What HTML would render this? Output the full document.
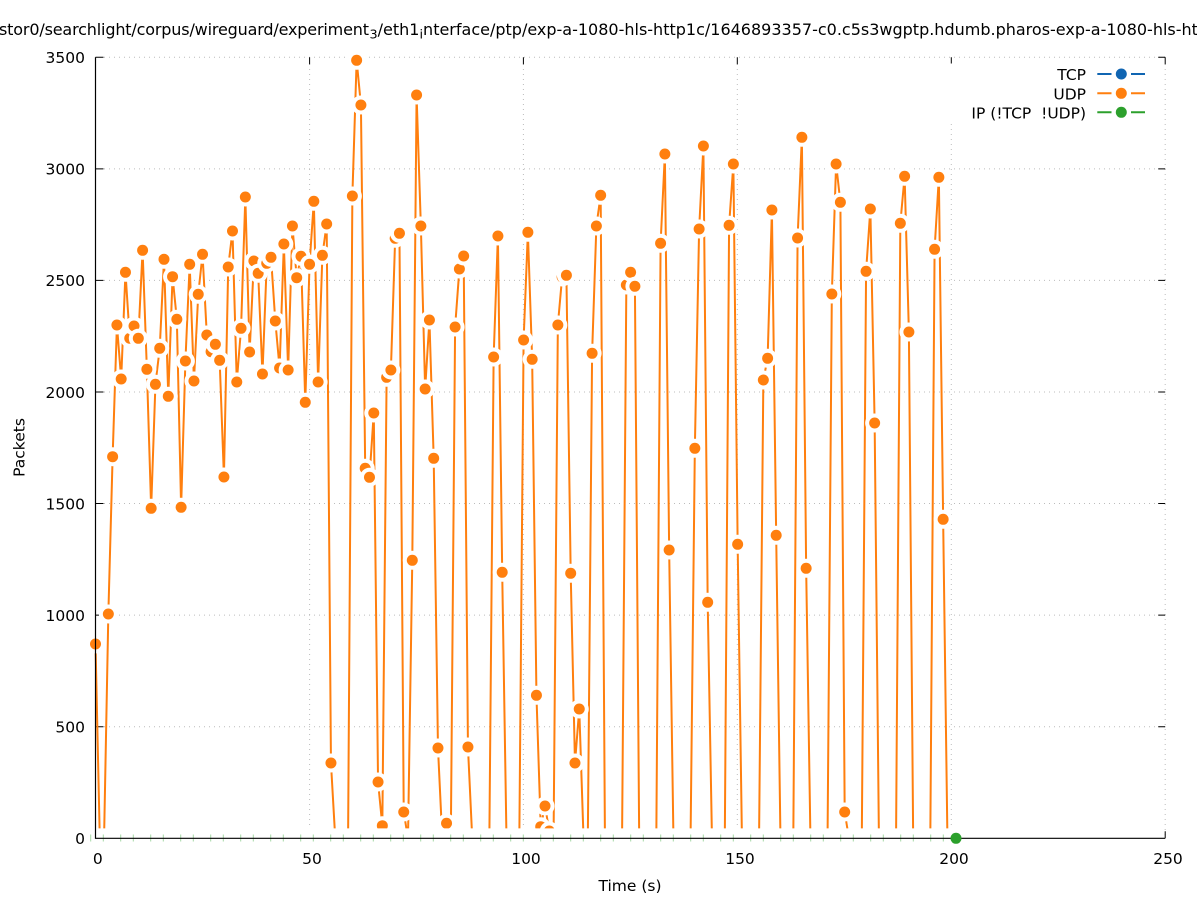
<!DOCTYPE html>
<html><head><meta charset="utf-8"><style>
html,body{margin:0;padding:0;background:#fff;}
svg{display:block;font-family:"DejaVu Sans","Liberation Sans",sans-serif;}
.w{fill:#fff}.o{fill:#ff7f0e}
</style></head><body>
<svg width="1197" height="900" viewBox="0 0 1197 900" xmlns="http://www.w3.org/2000/svg">
<rect width="1197" height="900" fill="#fff"/>
<g stroke="#bcbcbc" stroke-width="1" stroke-dasharray="1 4" fill="none">
<path d="M104 57.3H1165.2M104 168.9H1165.2M104 280.4H1165.2M104 392H1165.2M104 503.5H1165.2M104 615.1H1165.2M104 726.7H1165.2"/>
<path d="M309.6 64V838.3M523.4 64V838.3M737.3 64V838.3M951.3 64V838.3M1165.2 64V838.3"/>
</g>
<g stroke="#000" stroke-width="1" fill="none">
<path d="M95.5 57.3h8M95.5 168.9h8M95.5 280.4h8M95.5 392h8M95.5 503.5h8M95.5 615.1h8M95.5 726.7h8"/>
<path d="M1165.2 57.3h-7M1165.2 168.9h-7M1165.2 280.4h-7M1165.2 392h-7M1165.2 503.5h-7M1165.2 615.1h-7M1165.2 726.7h-7"/>
<path d="M309.6 57.3v7M523.4 57.3v7M737.3 57.3v7M951.3 57.3v7M1165.2 57.3v7"/>
<path d="M309.6 838.3v-7M523.4 838.3v-7M737.3 838.3v-7M951.3 838.3v-7M1165.2 838.3v-7"/>
</g>
<rect x="945" y="63.5" width="213" height="60" fill="#fff"/>
<polyline fill="none" stroke="#ff7f0e" stroke-width="2" stroke-linejoin="miter" points="95.5,644 99.78,838.3 104.06,838.3 108.34,614 112.62,456.7 116.91,325 121.19,379 125.47,272.3 129.75,338.3 134.03,326 138.31,338.3 142.59,250.3 146.87,369.3 151.15,508.3 155.43,384.3 159.72,348.3 164,259.3 168.28,396.3 172.56,276.7 176.84,319.3 181.12,507.3 185.4,361 189.68,264.3 193.96,381 198.24,294.3 202.53,254.3 206.81,335 211.09,351.7 215.37,344.3 219.65,360.3 223.93,477 228.21,267 232.49,231 236.77,382 241.05,328.3 245.34,197 249.62,352 253.9,261 258.18,273.3 262.46,374 266.74,263.3 271.02,257.3 275.3,321 279.58,368 283.86,244 288.15,370 292.43,226 296.71,277.7 300.99,256.3 305.27,402.3 309.55,264.3 313.83,201.3 318.11,382 322.39,255.3 326.67,224 330.96,763 335.24,838.3 348.08,838.3 352.36,196 356.64,60.3 360.92,105 365.2,468.3 369.48,477.3 373.77,413 378.05,782 382.33,825.7 386.61,377.3 390.89,370 395.17,238.3 399.45,233.3 403.73,812 408.01,838.3 412.29,560.3 416.58,95 420.86,226 425.14,389 429.42,320 433.7,458.3 437.98,748 442.26,838.3 446.54,823.3 450.82,838.3 455.1,327 459.39,269 463.67,256 467.95,747 472.23,838.3 489.35,838.3 493.63,357 497.91,236 502.2,572.3 506.48,838.3 519.32,838.3 523.6,340 527.88,232.3 532.16,359.3 536.44,695.3 540.72,826.7 545.01,806 549.29,831 553.57,838.3 557.85,325 562.13,277 566.41,275.3 570.69,573.3 574.97,763 579.25,709 583.53,838.3 587.82,838.3 592.1,353.3 596.38,226 600.66,195.3 604.94,838.3 622.06,838.3 626.34,285 630.63,272.3 634.91,286.3 639.19,838.3 656.31,838.3 660.59,243.3 664.87,154 669.15,550 673.44,838.3 690.56,838.3 694.84,448.3 699.12,229 703.4,146 707.68,602.3 711.96,838.3 724.81,838.3 729.09,225.3 733.37,164 737.65,544.3 741.93,838.3 759.06,838.3 763.34,380 767.62,358.3 771.9,210 776.18,535.3 780.46,838.3 793.3,838.3 797.58,238 801.87,137.3 806.15,568.3 810.43,838.3 827.55,838.3 831.83,294 836.11,164 840.39,202.3 844.68,812 848.96,838.3 861.8,838.3 866.08,271.3 870.36,209 874.64,423 878.92,838.3 896.05,838.3 900.33,223.3 904.61,176.3 908.89,332 913.17,838.3 930.3,838.3 934.58,249.3 938.86,177.3 943.14,519.3 947.42,838.3 955.98,838.3"/>
<g>
<circle cx="95.5" cy="644" r="9.5" class="w"/><circle cx="95.5" cy="644" r="5.5" class="o"/>
<circle cx="108.34" cy="614" r="9.5" class="w"/><circle cx="108.34" cy="614" r="5.5" class="o"/>
<circle cx="112.62" cy="456.7" r="9.5" class="w"/><circle cx="112.62" cy="456.7" r="5.5" class="o"/>
<circle cx="116.91" cy="325" r="9.5" class="w"/><circle cx="116.91" cy="325" r="5.5" class="o"/>
<circle cx="121.19" cy="379" r="9.5" class="w"/><circle cx="121.19" cy="379" r="5.5" class="o"/>
<circle cx="125.47" cy="272.3" r="9.5" class="w"/><circle cx="125.47" cy="272.3" r="5.5" class="o"/>
<circle cx="129.75" cy="338.3" r="9.5" class="w"/><circle cx="129.75" cy="338.3" r="5.5" class="o"/>
<circle cx="134.03" cy="326" r="9.5" class="w"/><circle cx="134.03" cy="326" r="5.5" class="o"/>
<circle cx="138.31" cy="338.3" r="9.5" class="w"/><circle cx="138.31" cy="338.3" r="5.5" class="o"/>
<circle cx="142.59" cy="250.3" r="9.5" class="w"/><circle cx="142.59" cy="250.3" r="5.5" class="o"/>
<circle cx="146.87" cy="369.3" r="9.5" class="w"/><circle cx="146.87" cy="369.3" r="5.5" class="o"/>
<circle cx="151.15" cy="508.3" r="9.5" class="w"/><circle cx="151.15" cy="508.3" r="5.5" class="o"/>
<circle cx="155.43" cy="384.3" r="9.5" class="w"/><circle cx="155.43" cy="384.3" r="5.5" class="o"/>
<circle cx="159.72" cy="348.3" r="9.5" class="w"/><circle cx="159.72" cy="348.3" r="5.5" class="o"/>
<circle cx="164" cy="259.3" r="9.5" class="w"/><circle cx="164" cy="259.3" r="5.5" class="o"/>
<circle cx="168.28" cy="396.3" r="9.5" class="w"/><circle cx="168.28" cy="396.3" r="5.5" class="o"/>
<circle cx="172.56" cy="276.7" r="9.5" class="w"/><circle cx="172.56" cy="276.7" r="5.5" class="o"/>
<circle cx="176.84" cy="319.3" r="9.5" class="w"/><circle cx="176.84" cy="319.3" r="5.5" class="o"/>
<circle cx="181.12" cy="507.3" r="9.5" class="w"/><circle cx="181.12" cy="507.3" r="5.5" class="o"/>
<circle cx="185.4" cy="361" r="9.5" class="w"/><circle cx="185.4" cy="361" r="5.5" class="o"/>
<circle cx="189.68" cy="264.3" r="9.5" class="w"/><circle cx="189.68" cy="264.3" r="5.5" class="o"/>
<circle cx="193.96" cy="381" r="9.5" class="w"/><circle cx="193.96" cy="381" r="5.5" class="o"/>
<circle cx="198.24" cy="294.3" r="9.5" class="w"/><circle cx="198.24" cy="294.3" r="5.5" class="o"/>
<circle cx="202.53" cy="254.3" r="9.5" class="w"/><circle cx="202.53" cy="254.3" r="5.5" class="o"/>
<circle cx="206.81" cy="335" r="9.5" class="w"/><circle cx="206.81" cy="335" r="5.5" class="o"/>
<circle cx="211.09" cy="351.7" r="9.5" class="w"/><circle cx="211.09" cy="351.7" r="5.5" class="o"/>
<circle cx="215.37" cy="344.3" r="9.5" class="w"/><circle cx="215.37" cy="344.3" r="5.5" class="o"/>
<circle cx="219.65" cy="360.3" r="9.5" class="w"/><circle cx="219.65" cy="360.3" r="5.5" class="o"/>
<circle cx="223.93" cy="477" r="9.5" class="w"/><circle cx="223.93" cy="477" r="5.5" class="o"/>
<circle cx="228.21" cy="267" r="9.5" class="w"/><circle cx="228.21" cy="267" r="5.5" class="o"/>
<circle cx="232.49" cy="231" r="9.5" class="w"/><circle cx="232.49" cy="231" r="5.5" class="o"/>
<circle cx="236.77" cy="382" r="9.5" class="w"/><circle cx="236.77" cy="382" r="5.5" class="o"/>
<circle cx="241.05" cy="328.3" r="9.5" class="w"/><circle cx="241.05" cy="328.3" r="5.5" class="o"/>
<circle cx="245.34" cy="197" r="9.5" class="w"/><circle cx="245.34" cy="197" r="5.5" class="o"/>
<circle cx="249.62" cy="352" r="9.5" class="w"/><circle cx="249.62" cy="352" r="5.5" class="o"/>
<circle cx="253.9" cy="261" r="9.5" class="w"/><circle cx="253.9" cy="261" r="5.5" class="o"/>
<circle cx="258.18" cy="273.3" r="9.5" class="w"/><circle cx="258.18" cy="273.3" r="5.5" class="o"/>
<circle cx="262.46" cy="374" r="9.5" class="w"/><circle cx="262.46" cy="374" r="5.5" class="o"/>
<circle cx="266.74" cy="263.3" r="9.5" class="w"/><circle cx="266.74" cy="263.3" r="5.5" class="o"/>
<circle cx="271.02" cy="257.3" r="9.5" class="w"/><circle cx="271.02" cy="257.3" r="5.5" class="o"/>
<circle cx="275.3" cy="321" r="9.5" class="w"/><circle cx="275.3" cy="321" r="5.5" class="o"/>
<circle cx="279.58" cy="368" r="9.5" class="w"/><circle cx="279.58" cy="368" r="5.5" class="o"/>
<circle cx="283.86" cy="244" r="9.5" class="w"/><circle cx="283.86" cy="244" r="5.5" class="o"/>
<circle cx="288.15" cy="370" r="9.5" class="w"/><circle cx="288.15" cy="370" r="5.5" class="o"/>
<circle cx="292.43" cy="226" r="9.5" class="w"/><circle cx="292.43" cy="226" r="5.5" class="o"/>
<circle cx="296.71" cy="277.7" r="9.5" class="w"/><circle cx="296.71" cy="277.7" r="5.5" class="o"/>
<circle cx="300.99" cy="256.3" r="9.5" class="w"/><circle cx="300.99" cy="256.3" r="5.5" class="o"/>
<circle cx="305.27" cy="402.3" r="9.5" class="w"/><circle cx="305.27" cy="402.3" r="5.5" class="o"/>
<circle cx="309.55" cy="264.3" r="9.5" class="w"/><circle cx="309.55" cy="264.3" r="5.5" class="o"/>
<circle cx="313.83" cy="201.3" r="9.5" class="w"/><circle cx="313.83" cy="201.3" r="5.5" class="o"/>
<circle cx="318.11" cy="382" r="9.5" class="w"/><circle cx="318.11" cy="382" r="5.5" class="o"/>
<circle cx="322.39" cy="255.3" r="9.5" class="w"/><circle cx="322.39" cy="255.3" r="5.5" class="o"/>
<circle cx="326.67" cy="224" r="9.5" class="w"/><circle cx="326.67" cy="224" r="5.5" class="o"/>
<circle cx="330.96" cy="763" r="9.5" class="w"/><circle cx="330.96" cy="763" r="5.5" class="o"/>
<circle cx="352.36" cy="196" r="9.5" class="w"/><circle cx="352.36" cy="196" r="5.5" class="o"/>
<circle cx="356.64" cy="60.3" r="9.5" class="w"/><circle cx="356.64" cy="60.3" r="5.5" class="o"/>
<circle cx="360.92" cy="105" r="9.5" class="w"/><circle cx="360.92" cy="105" r="5.5" class="o"/>
<circle cx="365.2" cy="468.3" r="9.5" class="w"/><circle cx="365.2" cy="468.3" r="5.5" class="o"/>
<circle cx="369.48" cy="477.3" r="9.5" class="w"/><circle cx="369.48" cy="477.3" r="5.5" class="o"/>
<circle cx="373.77" cy="413" r="9.5" class="w"/><circle cx="373.77" cy="413" r="5.5" class="o"/>
<circle cx="378.05" cy="782" r="9.5" class="w"/><circle cx="378.05" cy="782" r="5.5" class="o"/>
<circle cx="382.33" cy="825.7" r="9.5" class="w"/><circle cx="382.33" cy="825.7" r="5.5" class="o"/>
<circle cx="386.61" cy="377.3" r="9.5" class="w"/><circle cx="386.61" cy="377.3" r="5.5" class="o"/>
<circle cx="390.89" cy="370" r="9.5" class="w"/><circle cx="390.89" cy="370" r="5.5" class="o"/>
<circle cx="395.17" cy="238.3" r="9.5" class="w"/><circle cx="395.17" cy="238.3" r="5.5" class="o"/>
<circle cx="399.45" cy="233.3" r="9.5" class="w"/><circle cx="399.45" cy="233.3" r="5.5" class="o"/>
<circle cx="403.73" cy="812" r="9.5" class="w"/><circle cx="403.73" cy="812" r="5.5" class="o"/>
<circle cx="412.29" cy="560.3" r="9.5" class="w"/><circle cx="412.29" cy="560.3" r="5.5" class="o"/>
<circle cx="416.58" cy="95" r="9.5" class="w"/><circle cx="416.58" cy="95" r="5.5" class="o"/>
<circle cx="420.86" cy="226" r="9.5" class="w"/><circle cx="420.86" cy="226" r="5.5" class="o"/>
<circle cx="425.14" cy="389" r="9.5" class="w"/><circle cx="425.14" cy="389" r="5.5" class="o"/>
<circle cx="429.42" cy="320" r="9.5" class="w"/><circle cx="429.42" cy="320" r="5.5" class="o"/>
<circle cx="433.7" cy="458.3" r="9.5" class="w"/><circle cx="433.7" cy="458.3" r="5.5" class="o"/>
<circle cx="437.98" cy="748" r="9.5" class="w"/><circle cx="437.98" cy="748" r="5.5" class="o"/>
<circle cx="446.54" cy="823.3" r="9.5" class="w"/><circle cx="446.54" cy="823.3" r="5.5" class="o"/>
<circle cx="455.1" cy="327" r="9.5" class="w"/><circle cx="455.1" cy="327" r="5.5" class="o"/>
<circle cx="459.39" cy="269" r="9.5" class="w"/><circle cx="459.39" cy="269" r="5.5" class="o"/>
<circle cx="463.67" cy="256" r="9.5" class="w"/><circle cx="463.67" cy="256" r="5.5" class="o"/>
<circle cx="467.95" cy="747" r="9.5" class="w"/><circle cx="467.95" cy="747" r="5.5" class="o"/>
<circle cx="493.63" cy="357" r="9.5" class="w"/><circle cx="493.63" cy="357" r="5.5" class="o"/>
<circle cx="497.91" cy="236" r="9.5" class="w"/><circle cx="497.91" cy="236" r="5.5" class="o"/>
<circle cx="502.2" cy="572.3" r="9.5" class="w"/><circle cx="502.2" cy="572.3" r="5.5" class="o"/>
<circle cx="523.6" cy="340" r="9.5" class="w"/><circle cx="523.6" cy="340" r="5.5" class="o"/>
<circle cx="527.88" cy="232.3" r="9.5" class="w"/><circle cx="527.88" cy="232.3" r="5.5" class="o"/>
<circle cx="532.16" cy="359.3" r="9.5" class="w"/><circle cx="532.16" cy="359.3" r="5.5" class="o"/>
<circle cx="536.44" cy="695.3" r="9.5" class="w"/><circle cx="536.44" cy="695.3" r="5.5" class="o"/>
<circle cx="540.72" cy="826.7" r="9.5" class="w"/><circle cx="540.72" cy="826.7" r="5.5" class="o"/>
<circle cx="545.01" cy="806" r="9.5" class="w"/><circle cx="545.01" cy="806" r="5.5" class="o"/>
<circle cx="549.29" cy="831" r="9.5" class="w"/><circle cx="549.29" cy="831" r="5.5" class="o"/>
<circle cx="557.85" cy="325" r="9.5" class="w"/><circle cx="557.85" cy="325" r="5.5" class="o"/>
<circle cx="562.13" cy="277" r="9.5" class="w"/><circle cx="562.13" cy="277" r="5.5" class="o"/>
<circle cx="566.41" cy="275.3" r="9.5" class="w"/><circle cx="566.41" cy="275.3" r="5.5" class="o"/>
<circle cx="570.69" cy="573.3" r="9.5" class="w"/><circle cx="570.69" cy="573.3" r="5.5" class="o"/>
<circle cx="574.97" cy="763" r="9.5" class="w"/><circle cx="574.97" cy="763" r="5.5" class="o"/>
<circle cx="579.25" cy="709" r="9.5" class="w"/><circle cx="579.25" cy="709" r="5.5" class="o"/>
<circle cx="592.1" cy="353.3" r="9.5" class="w"/><circle cx="592.1" cy="353.3" r="5.5" class="o"/>
<circle cx="596.38" cy="226" r="9.5" class="w"/><circle cx="596.38" cy="226" r="5.5" class="o"/>
<circle cx="600.66" cy="195.3" r="9.5" class="w"/><circle cx="600.66" cy="195.3" r="5.5" class="o"/>
<circle cx="626.34" cy="285" r="9.5" class="w"/><circle cx="626.34" cy="285" r="5.5" class="o"/>
<circle cx="630.63" cy="272.3" r="9.5" class="w"/><circle cx="630.63" cy="272.3" r="5.5" class="o"/>
<circle cx="634.91" cy="286.3" r="9.5" class="w"/><circle cx="634.91" cy="286.3" r="5.5" class="o"/>
<circle cx="660.59" cy="243.3" r="9.5" class="w"/><circle cx="660.59" cy="243.3" r="5.5" class="o"/>
<circle cx="664.87" cy="154" r="9.5" class="w"/><circle cx="664.87" cy="154" r="5.5" class="o"/>
<circle cx="669.15" cy="550" r="9.5" class="w"/><circle cx="669.15" cy="550" r="5.5" class="o"/>
<circle cx="694.84" cy="448.3" r="9.5" class="w"/><circle cx="694.84" cy="448.3" r="5.5" class="o"/>
<circle cx="699.12" cy="229" r="9.5" class="w"/><circle cx="699.12" cy="229" r="5.5" class="o"/>
<circle cx="703.4" cy="146" r="9.5" class="w"/><circle cx="703.4" cy="146" r="5.5" class="o"/>
<circle cx="707.68" cy="602.3" r="9.5" class="w"/><circle cx="707.68" cy="602.3" r="5.5" class="o"/>
<circle cx="729.09" cy="225.3" r="9.5" class="w"/><circle cx="729.09" cy="225.3" r="5.5" class="o"/>
<circle cx="733.37" cy="164" r="9.5" class="w"/><circle cx="733.37" cy="164" r="5.5" class="o"/>
<circle cx="737.65" cy="544.3" r="9.5" class="w"/><circle cx="737.65" cy="544.3" r="5.5" class="o"/>
<circle cx="763.34" cy="380" r="9.5" class="w"/><circle cx="763.34" cy="380" r="5.5" class="o"/>
<circle cx="767.62" cy="358.3" r="9.5" class="w"/><circle cx="767.62" cy="358.3" r="5.5" class="o"/>
<circle cx="771.9" cy="210" r="9.5" class="w"/><circle cx="771.9" cy="210" r="5.5" class="o"/>
<circle cx="776.18" cy="535.3" r="9.5" class="w"/><circle cx="776.18" cy="535.3" r="5.5" class="o"/>
<circle cx="797.58" cy="238" r="9.5" class="w"/><circle cx="797.58" cy="238" r="5.5" class="o"/>
<circle cx="801.87" cy="137.3" r="9.5" class="w"/><circle cx="801.87" cy="137.3" r="5.5" class="o"/>
<circle cx="806.15" cy="568.3" r="9.5" class="w"/><circle cx="806.15" cy="568.3" r="5.5" class="o"/>
<circle cx="831.83" cy="294" r="9.5" class="w"/><circle cx="831.83" cy="294" r="5.5" class="o"/>
<circle cx="836.11" cy="164" r="9.5" class="w"/><circle cx="836.11" cy="164" r="5.5" class="o"/>
<circle cx="840.39" cy="202.3" r="9.5" class="w"/><circle cx="840.39" cy="202.3" r="5.5" class="o"/>
<circle cx="844.68" cy="812" r="9.5" class="w"/><circle cx="844.68" cy="812" r="5.5" class="o"/>
<circle cx="866.08" cy="271.3" r="9.5" class="w"/><circle cx="866.08" cy="271.3" r="5.5" class="o"/>
<circle cx="870.36" cy="209" r="9.5" class="w"/><circle cx="870.36" cy="209" r="5.5" class="o"/>
<circle cx="874.64" cy="423" r="9.5" class="w"/><circle cx="874.64" cy="423" r="5.5" class="o"/>
<circle cx="900.33" cy="223.3" r="9.5" class="w"/><circle cx="900.33" cy="223.3" r="5.5" class="o"/>
<circle cx="904.61" cy="176.3" r="9.5" class="w"/><circle cx="904.61" cy="176.3" r="5.5" class="o"/>
<circle cx="908.89" cy="332" r="9.5" class="w"/><circle cx="908.89" cy="332" r="5.5" class="o"/>
<circle cx="934.58" cy="249.3" r="9.5" class="w"/><circle cx="934.58" cy="249.3" r="5.5" class="o"/>
<circle cx="938.86" cy="177.3" r="9.5" class="w"/><circle cx="938.86" cy="177.3" r="5.5" class="o"/>
<circle cx="943.14" cy="519.3" r="9.5" class="w"/><circle cx="943.14" cy="519.3" r="5.5" class="o"/>
</g>
<rect x="86" y="828.4" width="880" height="20" rx="9" fill="#fff"/>
<path fill="none" stroke="#a6d9a6" stroke-width="1" d="M90.7 834.5v7M103.3 834.5v7M120.7 834.5v7M133.3 834.5v7M150.7 834.5v7M163.3 834.5v7M180.7 834.5v7M193.3 834.5v7M210.7 834.5v7M223.3 834.5v7M240.7 834.5v7M253.3 834.5v7M270.7 834.5v7M283.3 834.5v7M300.7 834.5v7M313.3 834.5v7M330.7 834.5v7M343.3 834.5v7M360.7 834.5v7M373.3 834.5v7M390.7 834.5v7M403.3 834.5v7M420.7 834.5v7M433.3 834.5v7M450.7 834.5v7M463.3 834.5v7M480.7 834.5v7M493.3 834.5v7M510.7 834.5v7M523.3 834.5v7M540.7 834.5v7M553.3 834.5v7M570.7 834.5v7M583.3 834.5v7M600.7 834.5v7M613.3 834.5v7M630.7 834.5v7M643.3 834.5v7M660.7 834.5v7M673.3 834.5v7M690.7 834.5v7M703.3 834.5v7M720.7 834.5v7M733.3 834.5v7M750.7 834.5v7M763.3 834.5v7M780.7 834.5v7M793.3 834.5v7M810.7 834.5v7M823.3 834.5v7M840.7 834.5v7M853.3 834.5v7M870.7 834.5v7M883.3 834.5v7M900.7 834.5v7M913.3 834.5v7M930.7 834.5v7M943.3 834.5v7"/>
<path d="M95.5 57.3V838.3H1165.2" fill="none" stroke="#000" stroke-width="1.2"/>
<circle cx="956" cy="838.3" r="5.5" fill="#2ca02c"/>
<g font-size="15.5" fill="#000" text-anchor="end">
<text x="85" y="63">3500</text>
<text x="85" y="174.7">3000</text>
<text x="85" y="286.2">2500</text>
<text x="85" y="397.8">2000</text>
<text x="85" y="509.3">1500</text>
<text x="85" y="620.9">1000</text>
<text x="85" y="732.5">500</text>
<text x="85" y="844.1">0</text>
</g>
<g font-size="15.5" fill="#000" text-anchor="middle">
<text x="97.8" y="864">0</text>
<text x="312" y="864">50</text>
<text x="526" y="864">100</text>
<text x="740" y="864">150</text>
<text x="954" y="864">200</text>
<text x="1168" y="864">250</text>
<text x="630" y="891">Time (s)</text>
<text transform="translate(24.5,447.5) rotate(-90)">Packets</text>
</g>
<text x="-1" y="35" font-size="16" fill="#000" textLength="370" lengthAdjust="spacing">stor0/searchlight/corpus/wireguard/experiment</text>
<text x="369.5" y="35" font-size="16" fill="#000"><tspan font-size="12.8" dy="3.5">3</tspan><tspan dy="-3.5">/eth1</tspan><tspan font-size="12.8" dy="3.5">i</tspan><tspan dy="-3.5">nterface/ptp/exp-a-1080-hls-http1c/1646893357-c0.c5s3wgptp.hdumb.pharos-exp-a-1080-hls-http1c</tspan></text>
<g font-size="15.5" fill="#000" text-anchor="end">
<text x="1086" y="80">TCP</text>
<text x="1086" y="99.3">UDP</text>
<text x="1086" y="118.3">IP (!TCP&#160; !UDP)</text>
</g>
<g stroke-width="2">
<path d="M1097.3 74H1111.5M1131 74H1145" stroke="#1065b2"/>
<path d="M1097.3 93.3H1111.5M1131 93.3H1145" stroke="#ff7f0e"/>
<path d="M1097.3 112.3H1111.5M1131 112.3H1145" stroke="#2ca02c"/>
</g>
<circle cx="1121.3" cy="74" r="5.5" fill="#1065b2"/>
<circle cx="1121.3" cy="93.3" r="5.5" fill="#ff7f0e"/>
<circle cx="1121.3" cy="112.3" r="5.5" fill="#2ca02c"/>
</svg>
</body></html>
